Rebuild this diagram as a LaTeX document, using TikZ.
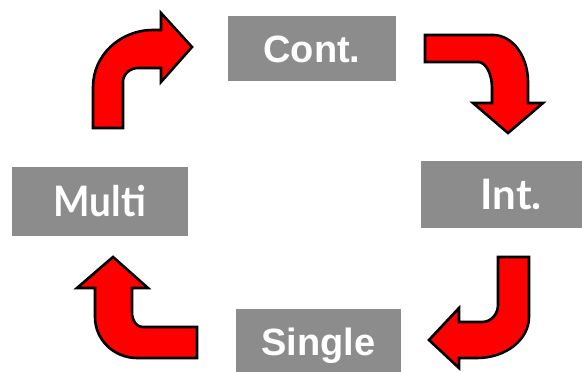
\documentclass[tikz,border=0pt]{standalone}
\usepackage{fontspec}
\newfontfamily\fa{Liberation Sans}
\newfontfamily\fb{Lato}
\newfontfamily\fbn{Lato}[FakeStretch=0.92]
\definecolor{boxgray}{HTML}{8C8C8C}
\definecolor{arrred}{HTML}{FF0000}
\tikzset{
  box/.style={fill=boxgray, inner sep=0pt, text=white, text depth=0pt},
  boxA/.style={box, font=\fa\bfseries\fontsize{38}{40}\selectfont, text height=27.5pt},
  boxB/.style={box, font=\fb\bfseries\fontsize{42}{44}\selectfont, text height=30pt},
  boxC/.style={box, font=\fbn\bfseries\fontsize{42}{44}\selectfont, text height=30pt},
  bentarrow/.style={fill=arrred, draw=black, line width=2.6pt, line join=miter}
}
\begin{document}
\begin{tikzpicture}[x=1pt,y=-1pt]
\clip (0,0) rectangle (582,372);
\fill[white] (0,0) rectangle (582,372);
% boxes
\node[boxA, minimum width=168pt, minimum height=65pt] (cont) at (312,48.5) {Cont.};
\node[boxB, minimum width=180pt, minimum height=67pt] (int) at (511,194.5) {Int.};
\node[boxA, minimum width=165pt, minimum height=65pt] (single) at (318.5,341.5) {Single};
\node[boxC, minimum width=176pt, minimum height=69pt] (multi) at (100,201) {Multi};
% arrow 1: up then right
\draw[bentarrow] (93,128) -- (93,87) .. controls (93,55.5) and (120,30) .. (153,30)
  -- (161,30) -- (161,13) -- (192,47) -- (161,82) -- (161,68) -- (138,68)
  .. controls (129.7,68) and (123,74.3) .. (123,82) -- (123,128) -- cycle;
% arrow 2: right then down
\draw[bentarrow] (425,35) -- (493,35) .. controls (512.3,35) and (528,56) .. (528,82)
  -- (528,103) -- (543,103) -- (508,133) -- (473,103) -- (492,103) -- (492,88)
  .. controls (492,73.6) and (485.7,62) .. (478,62) -- (425,62) -- cycle;
% arrow 3: down then left
\draw[bentarrow] (498,257) -- (529,257) -- (529,317) .. controls (529,339.6) and (505.7,358) .. (477,358)
  -- (459,358) -- (459,368) -- (429,340) -- (459,308) -- (459,322) -- (482,322)
  .. controls (490.8,322) and (498,314.4) .. (498,305) -- cycle;
% arrow 4: left then up
\draw[bentarrow] (197,327) -- (142,327) .. controls (136.5,327) and (132,320.3) .. (132,312)
  -- (132,288) -- (148,288) -- (113,257) -- (77,288) -- (95,288) -- (95,317)
  .. controls (95,339.6) and (113.8,358) .. (137,358) -- (197,358) -- cycle;
\end{tikzpicture}
\end{document}
